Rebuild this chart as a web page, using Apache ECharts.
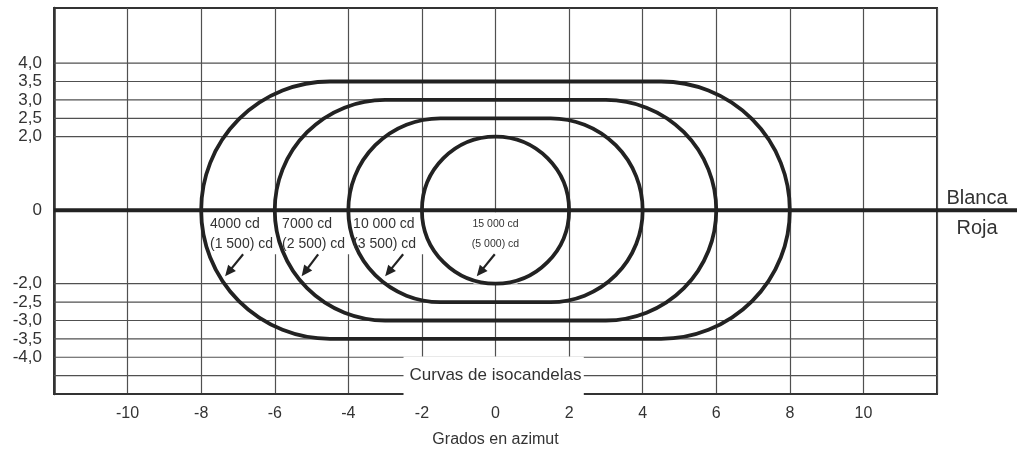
<!DOCTYPE html>
<html><head><meta charset="utf-8">
<script src="https://cdn.jsdelivr.net/npm/echarts@6/dist/echarts.min.js"></script>
<style>html,body{margin:0;padding:0;background:#fff}#c{width:1017px;height:453px}</style>
</head><body><div id="c"></div>
<script>
// ---- data ----
const xTickLabels = [-10, -8, -6, -4, -2, 0, 2, 4, 6, 8, 10];
const yTickLabels = [4.0, 3.5, 3.0, 2.5, 2.0, 0, -2.0, -2.5, -3.0, -3.5, -4.0];
const yGridValues = [4.0, 3.5, 3.0, 2.5, 2.0, -2.0, -2.5, -3.0, -3.5, -4.0, -4.5];
const curveNames = ['4000 cd', '7000 cd', '10 000 cd', '15 000 cd'];
const curveRedNames = ['(1 500) cd', '(2 500) cd', '(3 500) cd', '(5 000) cd'];
const curveHalfWidth = [8, 6, 4, 2];        // degrees in azimuth
const curveHalfHeight = [3.5, 3.0, 2.5, 2.0]; // degrees in elevation
const sideLabels = ['Blanca', 'Roja'];
const footLabel = 'Curvas de isocandelas';
const xAxisName = 'Grados en azimut';

// ---- annotation placement (data coordinates) ----
const annot = {
  labelX: [-7.76, -5.8, -3.87, 0],
  line1Y: -0.38, line2Y: -0.93,
  arrowTip: [[-7.35, -1.8], [-5.27, -1.8], [-3.0, -1.8], [-0.51, -1.8]],
  arrowTail: [[-6.86, -1.2], [-4.82, -1.2], [-2.51, -1.2], [-0.02, -1.2]],
  box: [[-7.8, -5.9, -1.2], [-5.85, -3.9, -1.2], [-3.9, -1.9, -1.2], [-0.6, 0.6, -2.0]],
  footBox: [-2.5, 2.4, -3.98, -5.07], footY: -4.5
};
const X_MIN = -12, X_MAX = 12, Y_MIN = -5, Y_MAX = 5.5;
const FONT = '"Liberation Sans", Arial, sans-serif';
const TXT = '#333';

function fmtY(v) {
  if (!yTickLabels.some(t => Math.abs(t - v) < 1e-6)) return '';
  if (Math.abs(v) < 1e-6) return '0';
  return v.toFixed(1).replace('.', ',');
}

const chart = echarts.init(document.getElementById('c'), null, {renderer: 'canvas'});
chart.setOption({
  animation: false,
  backgroundColor: '#fff',
  grid: {left: 54, right: 80, top: 8, bottom: 59, show: true, borderColor: '#333', borderWidth: 2, outerBoundsMode: 'none'},
  xAxis: {
    type: 'value', min: X_MIN, max: X_MAX, interval: 2,
    axisLine: {onZero: false, lineStyle: {color: '#333', width: 2}},
    axisTick: {show: false},
    splitLine: {show: true, lineStyle: {color: '#505050', width: 1.2}},
    axisLabel: {formatter: v => xTickLabels.includes(v) ? String(v) : '', color: TXT, fontSize: 16, margin: 12, fontFamily: FONT},
    name: xAxisName, nameLocation: 'middle', nameGap: 38,
    nameTextStyle: {color: TXT, fontSize: 16, fontFamily: FONT}
  },
  yAxis: {
    type: 'value', min: Y_MIN, max: Y_MAX, interval: 0.5,
    axisLine: {show: true, onZero: false, lineStyle: {color: '#333', width: 2.5}},
    axisTick: {show: false},
    splitLine: {show: false},
    axisLabel: {formatter: fmtY, color: TXT, fontSize: 17, margin: 12, fontFamily: FONT}
  },
  series: [
    { // horizontal grid lines
      type: 'custom', z: 2, silent: true, clip: false,
      data: yGridValues.map(v => [0, v]),
      renderItem: (p, api) => {
        const y = api.value(1);
        const a = api.coord([X_MIN, y]), b = api.coord([X_MAX, y]);
        return {type: 'line', shape: {x1: a[0], y1: a[1], x2: b[0], y2: b[1]}, style: {stroke: '#505050', lineWidth: 1.2}};
      }
    },
    { // label background boxes
      type: 'custom', z: 3, silent: true, clip: false,
      data: annot.box.map((b, i) => [i, 0]),
      renderItem: (p, api) => {
        const b = annot.box[p.dataIndex];
        const a = api.coord([b[0], 0]), c = api.coord([b[1], b[2]]);
        return {type: 'rect', shape: {x: a[0], y: a[1] + 2, width: c[0] - a[0], height: c[1] - a[1] - 2}, style: {fill: '#fff'}};
      }
    },
    { // footer label with its box
      type: 'custom', z: 3, silent: true, clip: false,
      data: [[0, annot.footY]],
      renderItem: (p, api) => {
        const fb = annot.footBox;
        const a = api.coord([fb[0], fb[2]]), c = api.coord([fb[1], fb[3]]);
        const t = api.coord([0, annot.footY]);
        return {type: 'group', children: [
          {type: 'rect', shape: {x: a[0], y: a[1], width: c[0] - a[0], height: c[1] - a[1]}, style: {fill: '#fff'}},
          {type: 'text', x: t[0], y: t[1], style: {text: footLabel, fill: TXT, font: '17px ' + FONT, align: 'center', verticalAlign: 'middle'}}
        ]};
      }
    },
    { // zero line (Blanca / Roja)
      type: 'custom', z: 4, silent: true, clip: false,
      data: [[0, 0]],
      renderItem: (p, api) => {
        const a = api.coord([X_MIN, 0]), b = api.coord([X_MAX, 0]);
        const W = api.getWidth();
        const cx = (b[0] + W) / 2;
        return {type: 'group', children: [
          {type: 'line', shape: {x1: a[0], y1: a[1], x2: W, y2: a[1]}, style: {stroke: '#222', lineWidth: 4}},
          {type: 'text', x: cx, y: a[1] - 12, style: {text: sideLabels[0], fill: TXT, font: '20px ' + FONT, align: 'center', verticalAlign: 'middle'}},
          {type: 'text', x: cx, y: a[1] + 18, style: {text: sideLabels[1], fill: TXT, font: '20px ' + FONT, align: 'center', verticalAlign: 'middle'}}
        ]};
      }
    },
    { // isocandela curves (stadium shapes)
      type: 'custom', z: 5, silent: true, clip: false,
      data: curveHalfWidth.map((w, i) => [w, curveHalfHeight[i]]),
      renderItem: (p, api) => {
        const hw = api.value(0), hh = api.value(1);
        const c = api.coord([0, 0]);
        const s = api.size([1, 1]);
        const flat = (hw - hh) * s[0], rx = hh * s[0], ry = hh * s[1];
        const x1 = c[0] - flat, x2 = c[0] + flat, yt = c[1] - ry, yb = c[1] + ry;
        const d = `M${x1} ${yt} L${x2} ${yt} A${rx} ${ry} 0 0 1 ${x2} ${yb} L${x1} ${yb} A${rx} ${ry} 0 0 1 ${x1} ${yt} Z`;
        return {type: 'path', shape: {pathData: d}, style: {fill: 'none', stroke: '#222', lineWidth: 3.8}};
      }
    },
    { // curve labels and arrows
      type: 'custom', z: 6, silent: true, clip: false,
      data: curveNames.map((n, i) => [i, 0]),
      renderItem: (p, api) => {
        const i = p.dataIndex;
        const small = i === 3;
        const font = (small ? '10.5px ' : '14px ') + FONT;
        const align = small ? 'center' : 'left';
        const p1 = api.coord([annot.labelX[i], annot.line1Y]);
        const p2 = api.coord([annot.labelX[i], annot.line2Y]);
        const tip = api.coord(annot.arrowTip[i]);
        const tail = api.coord(annot.arrowTail[i]);
        const dx = tip[0] - tail[0], dy = tip[1] - tail[1];
        const L = Math.sqrt(dx * dx + dy * dy), ux = dx / L, uy = dy / L;
        const hl = 11, hwid = 5;
        const bx = tip[0] - ux * hl, by = tip[1] - uy * hl;
        return {type: 'group', children: [
          {type: 'text', x: p1[0], y: p1[1], style: {text: curveNames[i], fill: TXT, font, align, verticalAlign: 'middle'}},
          {type: 'text', x: p2[0], y: p2[1], style: {text: curveRedNames[i], fill: TXT, font, align, verticalAlign: 'middle'}},
          {type: 'line', shape: {x1: tail[0], y1: tail[1], x2: bx + ux * 2, y2: by + uy * 2}, style: {stroke: '#222', lineWidth: 2.2}},
          {type: 'polygon', shape: {points: [[tip[0], tip[1]], [bx - uy * hwid, by + ux * hwid], [bx + uy * hwid, by - ux * hwid]]}, style: {fill: '#222'}}
        ]};
      }
    }
  ]
});
</script></body></html>
